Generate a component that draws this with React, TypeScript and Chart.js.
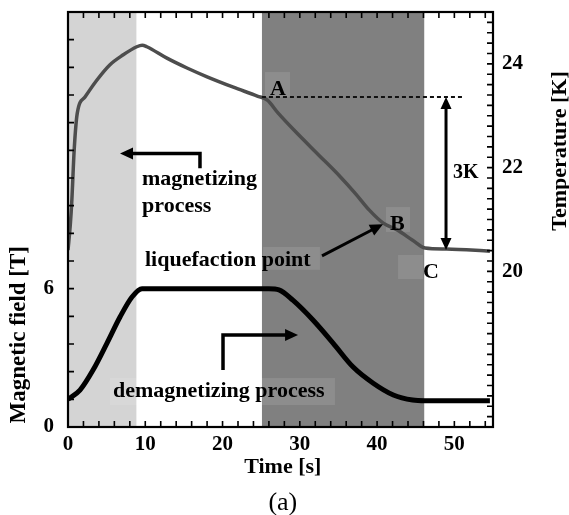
import React, { useEffect, useRef } from 'react';
import { Chart, registerables } from 'chart.js';

Chart.register(...registerables);

// ---- data ----
const tempTime = [0, 0.3, 0.5, 0.8, 1.2, 2.2, 3.75, 5.4, 7.1, 8.9, 9.6, 10.2, 12.8, 15.4, 18.0, 21.4, 24.5, 25.8, 27.2, 29.4, 32.4, 35.2, 37.2, 39.0, 40.8, 42.6, 44.6, 46.2, 49.0, 54.6];
const tempK = [20.41, 20.9, 21.38, 22.34, 23.05, 23.36, 23.69, 23.98, 24.17, 24.33, 24.36, 24.33, 24.11, 23.92, 23.75, 23.55, 23.38, 23.3, 23.05, 22.7, 22.25, 21.83, 21.5, 21.18, 20.93, 20.8, 20.6, 20.45, 20.43, 20.39];

const fieldTime = [0, 1.55, 3.24, 5.05, 6.73, 8.28, 9.58, 26.0, 27.3, 29.1, 31.7, 34.3, 36.9, 39.5, 42.1, 44.6, 46.2, 54.6];
const fieldT = [1.2, 1.6, 2.47, 3.64, 4.77, 5.64, 6.0, 6.0, 5.95, 5.5, 4.64, 3.64, 2.6, 1.9, 1.39, 1.17, 1.14, 1.14];

const magnetizingBand = [0, 8.85];
const demagnetizingBand = [25.1, 46.1];

const timeLabels = [0, 10, 20, 30, 40, 50];
const fieldLabels = [0, 6];
const tempLabels = [20, 22, 24];

const levelA = 23.36;
const levelC = 20.41;

const SERIF = "'Liberation Serif', 'Times New Roman', Times, serif";

function near(v: number, list: number[]) {
  return list.some((l) => Math.abs(l - v) < 1e-6);
}

function head(ctx: CanvasRenderingContext2D, x1: number, y1: number, x2: number, y2: number, len: number, half: number) {
  const a = Math.atan2(y2 - y1, x2 - x1);
  const c = Math.cos(a), s = Math.sin(a);
  ctx.beginPath();
  ctx.moveTo(x2, y2);
  ctx.lineTo(x2 - len * c + half * s, y2 - len * s - half * c);
  ctx.lineTo(x2 - len * c - half * s, y2 - len * s + half * c);
  ctx.closePath();
  ctx.fill();
}

function polyArrow(ctx: CanvasRenderingContext2D, pts: number[][], both = false, len = 13, half = 6) {
  const n = pts.length;
  const [ax, ay] = pts[n - 2];
  const [bx, by] = pts[n - 1];
  const a = Math.atan2(by - ay, bx - ax);
  ctx.beginPath();
  let sx = pts[0][0], sy = pts[0][1];
  if (both) {
    const [cx, cy] = pts[1];
    const a0 = Math.atan2(sy - cy, sx - cx);
    sx -= Math.cos(a0) * len * 0.8;
    sy -= Math.sin(a0) * len * 0.8;
  }
  ctx.moveTo(sx, sy);
  for (let i = 1; i < n - 1; i++) ctx.lineTo(pts[i][0], pts[i][1]);
  ctx.lineTo(bx - Math.cos(a) * len * 0.8, by - Math.sin(a) * len * 0.8);
  ctx.stroke();
  head(ctx, ax, ay, bx, by, len, half);
  if (both) head(ctx, pts[1][0], pts[1][1], pts[0][0], pts[0][1], len, half);
}

const decorPlugin = {
  id: 'decor',
  beforeDatasetsDraw(chart: any) {
    const { ctx, chartArea: a } = chart;
    const sx = chart.scales.x, sy = chart.scales.y, sT = chart.scales.y2;
    const X = (v: number) => sx.getPixelForValue(v);
    const T = (v: number) => sT.getPixelForValue(v);
    const B = (v: number) => sy.getPixelForValue(v);
    ctx.save();
    ctx.fillStyle = '#d4d4d4';
    ctx.fillRect(X(magnetizingBand[0]), a.top, X(magnetizingBand[1]) - X(magnetizingBand[0]), a.bottom - a.top);
    ctx.fillStyle = '#808080';
    ctx.fillRect(X(demagnetizingBand[0]), a.top, X(demagnetizingBand[1]) - X(demagnetizingBand[0]), a.bottom - a.top);
    ctx.fillStyle = 'rgba(255,255,255,0.1)';
    const patch = (x0: number, x1: number, y0: number, y1: number) =>
      ctx.fillRect(Math.min(x0, x1), Math.min(y0, y1), Math.abs(x1 - x0), Math.abs(y1 - y0));
    patch(X(25.49), X(28.73), T(23.843), T(23.36));
    patch(X(41.15), X(44.26), T(21.24), T(20.76));
    patch(X(42.71), X(45.94), T(20.316), T(19.853));
    patch(X(25.24), X(32.61), T(20.47), T(20.03));
    patch(X(5.44), X(34.55), B(2.125), B(0.954));
    ctx.restore();
  },
  afterDatasetsDraw(chart: any) {
    const { ctx, chartArea: a } = chart;
    const sx = chart.scales.x, sy = chart.scales.y, sT = chart.scales.y2;
    const X = (v: number) => sx.getPixelForValue(v);
    const T = (v: number) => sT.getPixelForValue(v);
    const B = (v: number) => sy.getPixelForValue(v);
    ctx.save();

    // inward tick marks
    ctx.strokeStyle = '#000';
    ctx.lineWidth = 1.6;
    const tl = 6;
    ctx.beginPath();
    sx.ticks.forEach((t: any) => {
      const p = X(t.value);
      ctx.moveTo(p, a.bottom); ctx.lineTo(p, a.bottom - tl);
      ctx.moveTo(p, a.top); ctx.lineTo(p, a.top + tl);
    });
    sy.ticks.forEach((t: any) => {
      const p = B(t.value);
      ctx.moveTo(a.left, p); ctx.lineTo(a.left + tl, p);
    });
    sT.ticks.forEach((t: any) => {
      const p = T(t.value);
      ctx.moveTo(a.right, p); ctx.lineTo(a.right - tl, p);
    });
    ctx.stroke();

    // frame
    ctx.lineWidth = 2.2;
    ctx.strokeRect(a.left, a.top, a.right - a.left, a.bottom - a.top);

    // dotted level line at A
    ctx.save();
    ctx.setLineDash([4, 3]);
    ctx.lineWidth = 2;
    ctx.strokeStyle = '#111';
    ctx.beginPath();
    ctx.moveTo(X(25.1), T(levelA));
    ctx.lineTo(X(51.1), T(levelA));
    ctx.stroke();
    ctx.restore();

    // arrows
    ctx.strokeStyle = '#000';
    ctx.fillStyle = '#000';
    ctx.lineWidth = 3.5;
    ctx.lineJoin = 'miter';
    polyArrow(ctx, [[X(17.08), T(21.99)], [X(17.08), T(22.27)], [X(6.73), T(22.27)]]);
    polyArrow(ctx, [[X(20.06), B(2.47)], [X(20.06), B(3.99)], [X(29.77), B(3.99)]]);
    ctx.lineWidth = 3;
    polyArrow(ctx, [[X(32.87), T(20.3)], [X(40.76), T(20.91)]]);
    polyArrow(ctx, [[X(48.92), T(levelA)], [X(48.92), T(levelC)]], true, 12, 5.5);

    // annotation texts
    ctx.fillStyle = '#000';
    ctx.textAlign = 'left';
    ctx.textBaseline = 'alphabetic';
    ctx.font = `bold 22px ${SERIF}`;
    ctx.fillText('magnetizing', X(9.58), T(21.665));
    ctx.fillText('process', X(9.58), T(21.145));
    ctx.fillText('liquefaction point', X(9.96), T(20.1));
    ctx.fillText('demagnetizing process', X(5.82), B(1.3));
    ctx.fillText('A', X(26.14), T(23.4));
    ctx.fillText('B', X(41.67), T(20.8));
    ctx.fillText('C', X(45.94), T(19.87));
    ctx.font = `bold 20px ${SERIF}`;
    ctx.fillText('3K', X(49.82), T(21.8));

    // axis titles
    ctx.textAlign = 'center';
    ctx.textBaseline = 'middle';
    ctx.font = `bold 23px ${SERIF}`;
    ctx.save();
    ctx.translate(19, B(4.0));
    ctx.rotate(-Math.PI / 2);
    ctx.fillText('Magnetic field [T]', 0, 0);
    ctx.restore();
    ctx.font = `bold 22px ${SERIF}`;
    ctx.save();
    ctx.translate(560, T(22.32));
    ctx.rotate(-Math.PI / 2);
    ctx.fillText('Temperature [K]', 0, 0);
    ctx.restore();
    ctx.fillText('Time [s]', X(27.8), a.bottom + 40);
    ctx.font = `26px ${SERIF}`;
    ctx.fillText('(a)', X(27.8), a.bottom + 76);

    ctx.restore();
  },
};

const tickFont = { family: SERIF, size: 21, weight: 'bold' as const };

const fitV = (w: number) => (s: any) => {
  s.width = w;
  s.paddingTop = 0;
  s.paddingBottom = 0;
};

export default function App() {
  const ref = useRef<HTMLCanvasElement>(null);
  useEffect(() => {
    const chart = new Chart(ref.current as HTMLCanvasElement, {
      type: 'line',
      data: {
        datasets: [
          {
            label: 'Temperature',
            data: tempTime.map((t, i) => ({ x: t, y: tempK[i] })),
            yAxisID: 'y2',
            borderColor: '#4d4d4d',
            borderWidth: 3.5,
            pointRadius: 0,
            cubicInterpolationMode: 'monotone',
            fill: false,
          },
          {
            label: 'Magnetic field',
            data: fieldTime.map((t, i) => ({ x: t, y: fieldT[i] })),
            yAxisID: 'y',
            borderColor: '#000',
            borderWidth: 5,
            pointRadius: 0,
            cubicInterpolationMode: 'monotone',
            fill: false,
          },
        ],
      },
      options: {
        responsive: false,
        maintainAspectRatio: false,
        animation: false,
        events: [],
        layout: { padding: { top: 12, left: 0, right: 0, bottom: 0 } },
        plugins: { legend: { display: false }, tooltip: { enabled: false } },
        scales: {
          x: {
            type: 'linear',
            position: 'bottom',
            min: 0,
            max: 55,
            grid: { display: false, drawTicks: false },
            border: { display: false },
            ticks: {
              stepSize: 2,
              includeBounds: false,
              autoSkip: false,
              maxRotation: 0,
              padding: 5,
              color: '#000',
              font: tickFont,
              callback: (v: any) => (near(Number(v), timeLabels) ? String(v) : ''),
            },
            afterFit: (s: any) => { s.height = 88; s.paddingLeft = 0; s.paddingRight = 0; },
          },
          y: {
            type: 'linear',
            position: 'left',
            min: 0,
            max: 18,
            grid: { display: false, drawTicks: false },
            border: { display: false },
            ticks: {
              stepSize: 1.2,
              maxTicksLimit: 1000,
              autoSkip: false,
              padding: 14,
              color: '#000',
              font: tickFont,
              callback: (v: any) => (near(Number(v), fieldLabels) ? String(Math.round(Number(v))) : ''),
            },
            afterFit: fitV(68),
          },
          y2: {
            type: 'linear',
            position: 'right',
            min: 17,
            max: 25,
            grid: { display: false, drawTicks: false },
            border: { display: false },
            ticks: {
              stepSize: 0.2,
              maxTicksLimit: 1000,
              autoSkip: false,
              padding: 9,
              color: '#000',
              font: tickFont,
              callback: (v: any) => (near(Number(v), tempLabels) ? String(Math.round(Number(v))) : ''),
            },
            afterFit: fitV(76),
          },
        },
      } as any,
      plugins: [decorPlugin],
    });
    return () => chart.destroy();
  }, []);
  return (
    <div style={{ position: 'absolute', left: 0, top: 0, width: 569, height: 515, background: '#fff' }}>
      <canvas ref={ref} width={569} height={515} style={{ display: 'block', width: 569, height: 515 }} />
    </div>
  );
}
